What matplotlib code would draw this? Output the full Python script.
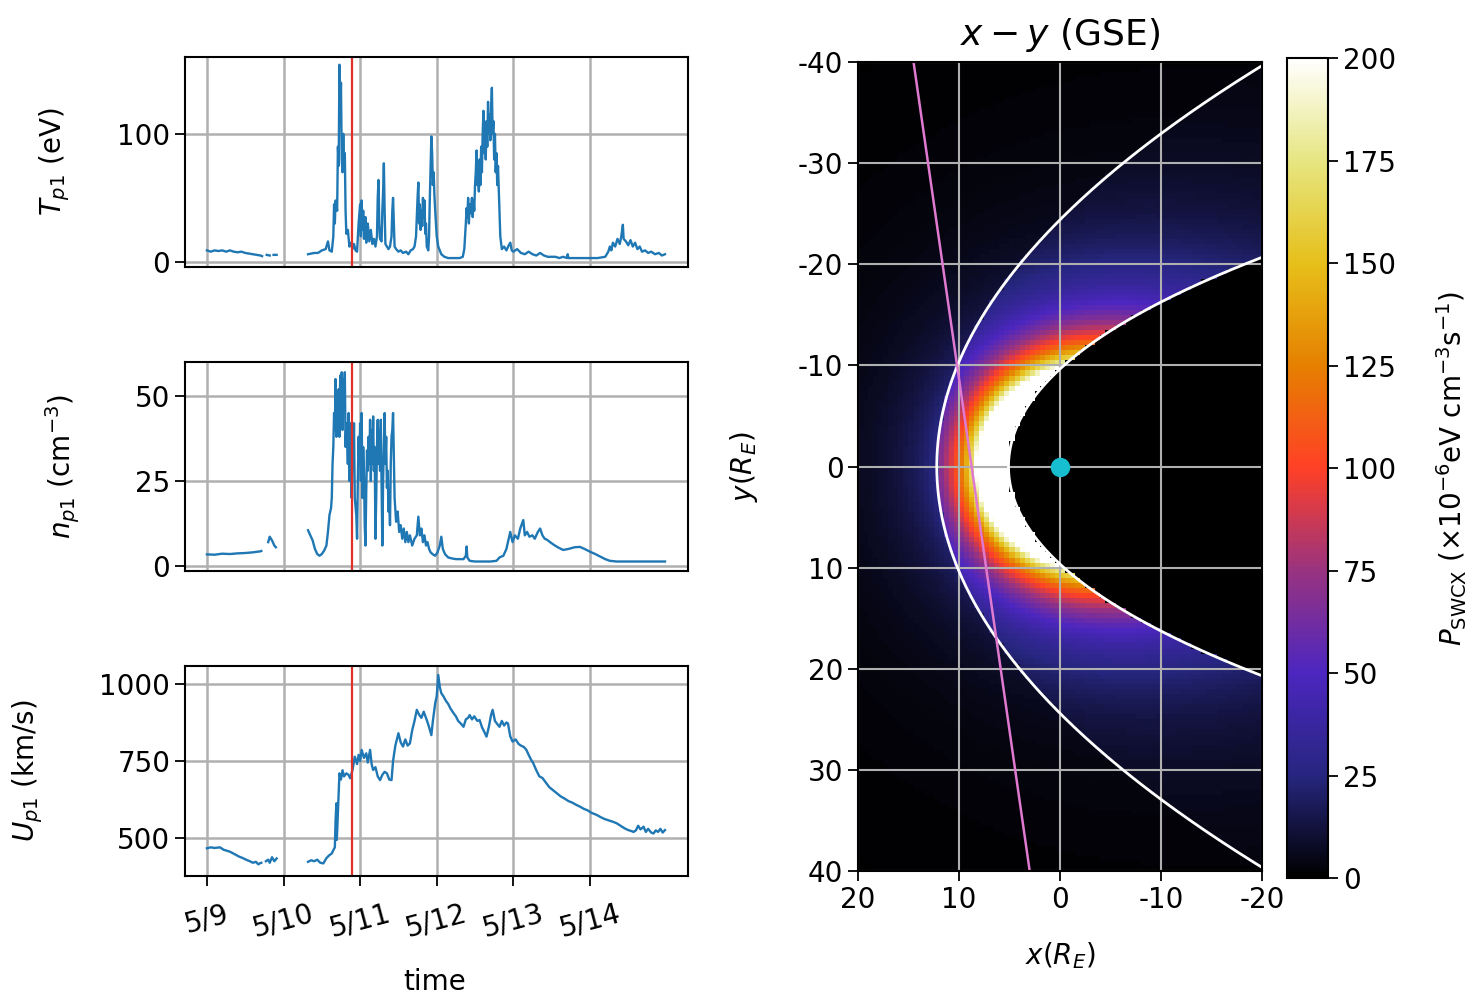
import numpy as np
import matplotlib.pyplot as plt

# ---------------- solar wind time series (days after 5/9 00:00 UT) ----------------
day_ticks = [0, 1, 2, 3, 4, 5]
day_labels = ['5/9', '5/10', '5/11', '5/12', '5/13', '5/14']
t_marker = 1.90  # red vertical line

nan = np.nan

# proton temperature (eV)
temp_pts = [
    (0.00, 9), (0.05, 8), (0.10, 9), (0.15, 8.5), (0.20, 9), (0.25, 8), (0.30, 9), (0.35, 8),
    (0.40, 7.5), (0.45, 8), (0.50, 7), (0.55, 6.5), (0.60, 6), (0.65, 5.5), (0.70, 5), (0.72, 4.5),
    (0.75, nan), (0.78, 5.5), (0.82, 5), (0.84, nan), (0.87, 5.5), (0.91, 5.5), (1.10, nan),
    (1.32, 6), (1.36, 6.5), (1.40, 7), (1.45, 7), (1.50, 9), (1.55, 10), (1.58, 16), (1.60, 9),
    (1.63, 8), (1.65, 20), (1.66, 45), (1.67, 30), (1.68, 48), (1.70, 40), (1.71, 90), (1.72, 75),
    (1.73, 154), (1.74, 110), (1.75, 140), (1.76, 80), (1.77, 70), (1.78, 100), (1.79, 74),
    (1.80, 85), (1.81, 40), (1.82, 22), (1.84, 25), (1.86, 12), (1.88, 15), (1.90, 10), (1.92, 14),
    (1.94, 9), (1.96, 8), (1.98, 30), (2.00, 45), (2.01, 20), (2.02, 48), (2.03, 25), (2.04, 40),
    (2.05, 18), (2.07, 35), (2.08, 15), (2.10, 30), (2.12, 16), (2.14, 25), (2.16, 14), (2.18, 18),
    (2.20, 12), (2.22, 20), (2.23, 50), (2.24, 64), (2.25, 30), (2.26, 18), (2.28, 16), (2.29, 40),
    (2.30, 55), (2.31, 77), (2.32, 40), (2.33, 14), (2.35, 12), (2.37, 10), (2.39, 12), (2.41, 20),
    (2.42, 40), (2.43, 50), (2.44, 30), (2.45, 12), (2.47, 10), (2.50, 8), (2.53, 9), (2.56, 7),
    (2.60, 8), (2.63, 6), (2.66, 9), (2.69, 10), (2.71, 12), (2.73, 20), (2.75, 50), (2.76, 62),
    (2.77, 30), (2.78, 45), (2.79, 25), (2.80, 40), (2.81, 28), (2.82, 50), (2.83, 35), (2.84, 48),
    (2.85, 22), (2.86, 30), (2.87, 12), (2.89, 9), (2.90, 20), (2.91, 50), (2.92, 75), (2.93, 98),
    (2.94, 85), (2.95, 60), (2.96, 70), (2.97, 52), (2.98, 40), (3.00, 20), (3.02, 12), (3.04, 9),
    (3.06, 6), (3.10, 4), (3.15, 3), (3.20, 3), (3.25, 3), (3.30, 3), (3.34, 4), (3.36, 10),
    (3.38, 30), (3.39, 42), (3.40, 35), (3.41, 50), (3.42, 30), (3.43, 45), (3.44, 38), (3.46, 50),
    (3.47, 35), (3.48, 48), (3.49, 40), (3.50, 60), (3.51, 70), (3.52, 87), (3.53, 60), (3.54, 70),
    (3.55, 55), (3.56, 80), (3.57, 60), (3.58, 90), (3.59, 70), (3.60, 100), (3.61, 118), (3.62, 85),
    (3.63, 105), (3.64, 80), (3.65, 110), (3.66, 90), (3.67, 125), (3.68, 100), (3.69, 115),
    (3.70, 95), (3.71, 120), (3.72, 136), (3.73, 100), (3.74, 110), (3.75, 80), (3.76, 100),
    (3.77, 70), (3.78, 85), (3.79, 60), (3.80, 75), (3.81, 57), (3.82, 40), (3.83, 20), (3.85, 10),
    (3.88, 12), (3.91, 9), (3.94, 13), (3.96, 15), (3.98, 9), (4.00, 8), (4.05, 10), (4.10, 7),
    (4.15, 6), (4.20, 8), (4.25, 6), (4.30, 5), (4.35, 7), (4.40, 5), (4.45, 4), (4.50, 4),
    (4.55, 4), (4.60, 3), (4.65, 4), (4.70, 3), (4.71, 6), (4.72, 3), (4.80, 3), (4.90, 3),
    (5.00, 3), (5.10, 3), (5.20, 4), (5.24, 8), (5.26, 12), (5.28, 9), (5.30, 15), (5.33, 12),
    (5.36, 18), (5.39, 14), (5.41, 20), (5.43, 29), (5.44, 18), (5.47, 16), (5.50, 13), (5.53, 17),
    (5.56, 12), (5.59, 15), (5.62, 10), (5.65, 12), (5.68, 8), (5.72, 9), (5.76, 7), (5.80, 8),
    (5.85, 6), (5.90, 7), (5.94, 5), (5.98, 6),
]

# proton density (cm^-3)
dens_pts = [
    (0.00, 3.4), (0.10, 3.3), (0.20, 3.6), (0.30, 3.5), (0.40, 3.7), (0.50, 3.8), (0.60, 4.0),
    (0.70, 4.3), (0.71, 4.4), (0.74, nan), (0.80, 7), (0.82, 8.6), (0.85, 7.5), (0.88, 6),
    (0.90, 5.5), (1.10, nan), (1.32, 10.5), (1.35, 9), (1.38, 7.5), (1.41, 5), (1.44, 3.5),
    (1.47, 3), (1.50, 3.5), (1.53, 4.5), (1.56, 6), (1.58, 10), (1.60, 15), (1.62, 17), (1.63, 20),
    (1.64, 30), (1.65, 35), (1.66, 45), (1.67, 40), (1.68, 55), (1.69, 38), (1.70, 50), (1.71, 40),
    (1.72, 52), (1.73, 38), (1.74, 56), (1.75, 45), (1.76, 57), (1.77, 40), (1.78, 55), (1.79, 47),
    (1.80, 57), (1.81, 35), (1.82, 42), (1.83, 38), (1.84, 30), (1.85, 45), (1.86, 25), (1.87, 30),
    (1.88, 42), (1.89, 20), (1.90, 38), (1.91, 30), (1.92, 42), (1.93, 20), (1.95, 15), (1.96, 8),
    (1.97, 25), (1.98, 38), (1.99, 30), (2.00, 42), (2.01, 25), (2.02, 45), (2.03, 20), (2.04, 35),
    (2.05, 28), (2.06, 12), (2.07, 6), (2.08, 22), (2.09, 34), (2.10, 28), (2.11, 38), (2.12, 30),
    (2.13, 43), (2.14, 25), (2.15, 40), (2.16, 30), (2.17, 44), (2.18, 28), (2.19, 35), (2.20, 8),
    (2.21, 20), (2.22, 35), (2.23, 43), (2.24, 30), (2.25, 40), (2.26, 28), (2.27, 43), (2.28, 25),
    (2.29, 6), (2.30, 25), (2.31, 35), (2.32, 45), (2.33, 30), (2.34, 38), (2.35, 23), (2.36, 28),
    (2.37, 16), (2.38, 20), (2.39, 12), (2.40, 30), (2.41, 38), (2.42, 40), (2.43, 45), (2.45, 20),
    (2.47, 13), (2.49, 16), (2.51, 10), (2.53, 12), (2.55, 8), (2.57, 11), (2.59, 7), (2.61, 10),
    (2.63, 7), (2.65, 9), (2.68, 6), (2.71, 8), (2.74, 9), (2.76, 14.5), (2.78, 9), (2.80, 11),
    (2.82, 7), (2.84, 9), (2.86, 6), (2.88, 7), (2.90, 5), (2.92, 4), (2.95, 3.4), (2.98, 3),
    (3.01, 4), (3.04, 6), (3.06, 8.6), (3.08, 5), (3.11, 3.4), (3.15, 2.5), (3.20, 2.2), (3.25, 2),
    (3.30, 2), (3.35, 2), (3.38, 3), (3.39, 5.7), (3.40, 2.5), (3.43, 1.5), (3.50, 1.3), (3.60, 1.3),
    (3.70, 1.3), (3.78, 1.5), (3.82, 2.5), (3.87, 3), (3.91, 5), (3.96, 10), (3.99, 7), (4.02, 9),
    (4.06, 8), (4.09, 11), (4.13, 13.5), (4.15, 9), (4.18, 10), (4.21, 8.6), (4.25, 9), (4.28, 8),
    (4.32, 10), (4.35, 11), (4.38, 9), (4.41, 8), (4.44, 7.7), (4.48, 7), (4.53, 6.2), (4.58, 5.5),
    (4.65, 4.7), (4.72, 5), (4.80, 5.5), (4.87, 5.6), (4.93, 5), (5.00, 4.2), (5.07, 3.5),
    (5.13, 2.8), (5.20, 2), (5.26, 1.5), (5.35, 1.3), (5.50, 1.3), (5.70, 1.3), (5.85, 1.3),
    (5.98, 1.3),
]

# proton bulk speed (km/s)
speed_pts = [
    (0.00, 467), (0.05, 470), (0.10, 468), (0.17, 470), (0.22, 462), (0.30, 456), (0.36, 448),
    (0.42, 440), (0.47, 435), (0.52, 429), (0.56, 425), (0.60, 420), (0.64, 423), (0.67, 415),
    (0.69, 418), (0.71, 420), (0.74, nan), (0.77, 425), (0.80, 430), (0.82, 420), (0.85, 438),
    (0.88, 425), (0.91, 434), (1.10, nan), (1.32, 423), (1.36, 428), (1.40, 425), (1.44, 430),
    (1.48, 420), (1.52, 418), (1.56, 435), (1.60, 445), (1.63, 450), (1.65, 461), (1.67, 470),
    (1.68, 560), (1.69, 613), (1.695, 494), (1.70, 520), (1.72, 650), (1.73, 710), (1.75, 690),
    (1.77, 720), (1.79, 700), (1.82, 710), (1.85, 705), (1.87, 694), (1.90, 720), (1.93, 764),
    (1.96, 740), (1.98, 770), (2.00, 750), (2.02, 786), (2.05, 760), (2.08, 775), (2.10, 745),
    (2.13, 786), (2.15, 740), (2.17, 721), (2.20, 730), (2.23, 700), (2.26, 688), (2.29, 705),
    (2.32, 715), (2.35, 710), (2.38, 690), (2.41, 688), (2.43, 750), (2.46, 800), (2.48, 820),
    (2.50, 840), (2.53, 810), (2.56, 797), (2.59, 820), (2.62, 800), (2.65, 807), (2.68, 850),
    (2.71, 880), (2.74, 916), (2.77, 900), (2.80, 890), (2.83, 910), (2.87, 883), (2.90, 860),
    (2.93, 834), (2.95, 880), (2.98, 937), (3.00, 960), (3.02, 1029), (3.04, 990), (3.06, 970),
    (3.09, 959), (3.12, 945), (3.15, 935), (3.18, 920), (3.22, 905), (3.25, 895), (3.28, 880),
    (3.32, 870), (3.35, 861), (3.38, 885), (3.41, 890), (3.43, 899), (3.46, 885), (3.49, 895),
    (3.53, 880), (3.56, 883), (3.59, 860), (3.62, 845), (3.65, 829), (3.68, 860), (3.71, 900),
    (3.73, 916), (3.76, 880), (3.79, 870), (3.82, 861), (3.85, 880), (3.88, 865), (3.91, 875),
    (3.93, 872), (3.96, 830), (3.99, 813), (4.03, 820), (4.07, 805), (4.10, 800), (4.14, 795),
    (4.17, 786), (4.20, 770), (4.23, 755), (4.26, 743), (4.30, 720), (4.34, 700), (4.38, 695),
    (4.43, 678), (4.47, 665), (4.52, 655), (4.57, 645), (4.62, 635), (4.67, 628), (4.72, 620),
    (4.77, 615), (4.82, 608), (4.87, 602), (4.92, 595), (4.97, 590), (5.02, 582), (5.06, 578),
    (5.09, 575), (5.14, 568), (5.19, 562), (5.24, 558), (5.30, 553), (5.35, 548), (5.40, 540),
    (5.45, 532), (5.50, 526), (5.55, 522), (5.57, 520), (5.60, 525), (5.63, 540), (5.66, 528),
    (5.70, 537), (5.73, 520), (5.76, 530), (5.80, 518), (5.83, 515), (5.86, 525), (5.89, 520),
    (5.92, 530), (5.95, 518), (5.98, 526),
]

# ---------------- x-y (GSE) emission map parameters ----------------
mp_r0, mp_alpha = 5.1, 0.92     # magnetopause (Shue form)
bs_r0, bs_alpha = 12.2, 1.0     # bow shock
peak_emis = 856.0               # emission at the magnetopause nose
flank_q = 2.2                   # decay of magnetopause emission toward flanks
upstream_frac = 0.45            # solar wind vs magnetosheath
cell = 0.5                      # R_E
los_x = [14.5, 3.0]             # line of sight
los_y = [-40.0, 40.0]
cbar_ticks = [0, 25, 50, 75, 100, 125, 150, 175, 200]


def shue(theta, r0, alpha):
    return r0 * (2.0 / (1.0 + np.cos(theta))) ** alpha


plt.rcParams['font.family'] = 'DejaVu Sans'
plt.rcParams['font.size'] = 20
plt.rcParams['mathtext.fontset'] = 'dejavusans'
plt.rcParams['axes.unicode_minus'] = False

fig = plt.figure(figsize=(14.76, 9.99), dpi=100)

ax_T = fig.add_axes([0.1253, 0.7327, 0.3408, 0.2102])
ax_n = fig.add_axes([0.1253, 0.4284, 0.3408, 0.2092])
ax_U = fig.add_axes([0.1253, 0.1231, 0.3408, 0.2102])

series = [
    (ax_T, temp_pts, (-4, 160), [0, 100], r'$T_{p1}$ (eV)', -0.225),
    (ax_n, dens_pts, (-1.5, 60), [0, 25, 50], r'$n_{p1}$ (cm$^{-3}$)', -0.205),
    (ax_U, speed_pts, (377, 1058), [500, 750, 1000], r'$U_{p1}$ (km/s)', -0.278),
]
for ax, pts, ylim, yt, lab, lx in series:
    t, v = np.array(pts, dtype=float).T
    ax.plot(t, v, color='#1f77b4', lw=1.7)
    ax.axvline(t_marker, color='#e0302a', lw=1.6)
    ax.set_xlim(-0.287, 6.28)
    ax.set_ylim(*ylim)
    ax.set_yticks(yt)
    ax.set_xticks(day_ticks)
    ax.grid(True, color='#b0b0b0', lw=1.8)
    ax.set_ylabel(lab)
    ax.yaxis.set_label_coords(lx, 0.5)
    ax.tick_params(width=1.3, length=7)
    for s in ax.spines.values():
        s.set_linewidth(1.5)

for ax in (ax_T, ax_n):
    ax.tick_params(axis='x', labelbottom=False, length=0)

ax_U.set_xticklabels(day_labels, rotation=15, ha='center')
ax_U.tick_params(axis='x', pad=10)
ax_U.set_xlabel('time')
ax_U.xaxis.set_label_coords(0.497, -0.44)

# ---------------- emission map ----------------
ax_m = fig.add_axes([0.5813, 0.1281, 0.2737, 0.8098])
xe = np.arange(-20, 20 + cell / 2, cell)
ye = np.arange(-40, 40 + cell / 2, cell)
xc = 0.5 * (xe[:-1] + xe[1:])
yc = 0.5 * (ye[:-1] + ye[1:])
X, Y = np.meshgrid(xc, yc)
R = np.hypot(X, Y)
TH = np.arctan2(np.abs(Y), X)
r_mp = shue(TH, mp_r0, mp_alpha)
r_bs = shue(TH, bs_r0, bs_alpha)
P = peak_emis * (r_mp / R) ** 3 * (mp_r0 / r_mp) ** flank_q
P[R > r_bs] *= upstream_frac
P[R < r_mp] = 0.0

mesh = ax_m.pcolormesh(xe, ye, P, cmap='CMRmap', vmin=0, vmax=200, shading='flat')

th = np.linspace(-2.6, 2.6, 600)
for r0, a in ((mp_r0, mp_alpha), (bs_r0, bs_alpha)):
    r = shue(th, r0, a)
    ax_m.plot(r * np.cos(th), r * np.sin(th), color='white', lw=2.0)
ax_m.plot(los_x, los_y, color='#e07ad0', lw=1.8)
ax_m.plot([0], [0], 'o', color='#17becf', ms=13)

ax_m.set_xlim(20, -20)
ax_m.set_ylim(40, -40)
ax_m.set_xticks([20, 10, 0, -10, -20])
ax_m.set_yticks(np.arange(-40, 41, 10))
ax_m.grid(True, color='#b0b0b0', lw=1.5)
ax_m.tick_params(width=1.3, length=7)
for s in ax_m.spines.values():
    s.set_linewidth(1.5)
ax_m.set_title(r'$x - y$ (GSE)', fontsize=26, pad=12)
ax_m.set_xlabel(r'$x(R_E)$')
ax_m.xaxis.set_label_coords(0.5, -0.085)
ax_m.set_ylabel(r'$y(R_E)$')
ax_m.yaxis.set_label_coords(-0.243, 0.5)

cax = fig.add_axes([0.8720, 0.1211, 0.0278, 0.8208])
cb = fig.colorbar(mesh, cax=cax, ticks=cbar_ticks)
cb.outline.set_linewidth(1.5)
cax.tick_params(width=1.3, length=7)
cb.set_label(r'$P_{\mathrm{SWCX}}$ ($\times10^{-6}$eV cm$^{-3}$s$^{-1}$)', fontsize=20)
cax.yaxis.set_label_coords(3.6, 0.5)

fig.savefig('out.png', dpi=100)
